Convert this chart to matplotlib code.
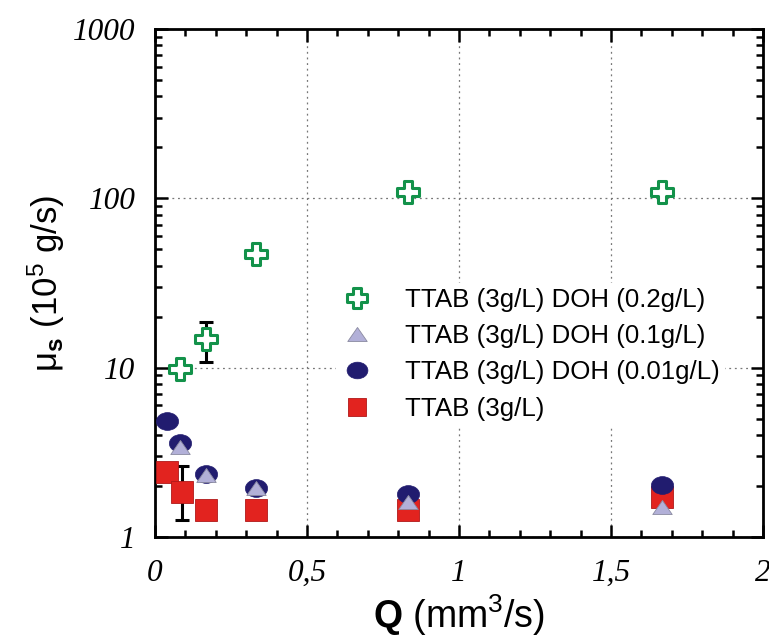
import numpy as np
import matplotlib
matplotlib.use("Agg")
import matplotlib.pyplot as plt
from matplotlib.path import Path
from matplotlib.transforms import Affine2D
from matplotlib.lines import Line2D

plt.rcParams['mathtext.fontset'] = 'custom'
plt.rcParams['mathtext.rm'] = 'Liberation Sans'
plt.rcParams['mathtext.it'] = 'Liberation Sans:italic'
plt.rcParams['mathtext.bf'] = 'Liberation Sans:bold'

# ---- data ----
labels = ["TTAB (3g/L) DOH (0.2g/L)", "TTAB (3g/L) DOH (0.1g/L)",
          "TTAB (3g/L) DOH (0.01g/L)", "TTAB (3g/L)"]

q_doh02 = [0.083, 0.167, 0.333, 0.833, 1.667]
mu_doh02 = [9.8, 14.8, 47.0, 109, 109]

q_doh01 = [0.083, 0.167, 0.333, 0.833, 1.667]
mu_doh01 = [3.42, 2.32, 1.96, 1.62, 1.50]

q_doh001 = [0.040, 0.083, 0.167, 0.333, 0.833, 1.667]
mu_doh001 = [4.86, 3.58, 2.36, 1.94, 1.79, 2.03]

q_ttab = [0.040, 0.090, 0.167, 0.333, 0.833, 1.667]
mu_ttab = [2.41, 1.84, 1.44, 1.44, 1.44, 1.73]

# error bars (x, low, high)
err_doh02 = (0.167, 10.8, 18.7)
err_ttab = (0.090, 1.26, 2.64)

xticks = [0, 0.5, 1, 1.5, 2]
xticklabels = ["0", "0,5", "1", "1,5", "2"]
yticks = [1, 10, 100, 1000]
yticklabels = ["1", "10", "100", "1000"]

# ---- markers ----
a = 0.34
plus_verts = [(-a, 1), (a, 1), (a, a), (1, a), (1, -a), (a, -a), (a, -1),
              (-a, -1), (-a, -a), (-1, -a), (-1, a), (-a, a), (-a, 1)]
plus_path = Path(plus_verts, closed=True)
ellipse_path = Path.unit_circle().transformed(Affine2D().scale(1, 0.8))
tri_path = Path([(0, 0.72), (-1, -0.72), (1, -0.72), (0, 0.72)], closed=True)

green = "#13924a"
navy = "#211c6f"
lav = "#b2b0d8"
red = "#e2231f"

fig = plt.figure(figsize=(7.69, 6.37), dpi=100)
ax = fig.add_axes([155/769, 1-537/637, (763-155)/769, (537-29)/637])
ax.set_yscale('log')
ax.set_xlim(0, 2)
ax.set_ylim(1, 1000)

# error bars
for (xe, lo, hi) in [err_doh02, err_ttab]:
    mid = np.sqrt(lo*hi)
    ax.errorbar([xe], [mid], yerr=[[mid-lo], [hi-mid]],
                fmt='none', ecolor='black', elinewidth=2.2, capsize=5, capthick=2.2, zorder=2)

ax.plot(q_ttab, mu_ttab, ls='none', marker='s', ms=16, mfc=red, mec='#b01818', mew=0.6, zorder=3)
ax.plot(q_doh001, mu_doh001, ls='none', marker=ellipse_path, ms=16, mfc=navy, mec=navy, mew=0.5, zorder=4)
ax.plot(q_doh01, mu_doh01, ls='none', marker=tri_path, ms=14, mfc=lav, mec='#8a8aa0', mew=0.6, zorder=5)
ax.plot(q_doh02, mu_doh02, ls='none', marker=plus_path, ms=16, mfc='white', mec=green, mew=2.2, zorder=6)

# grid
ax.grid(True, which='major', ls=(0, (1.5, 3)), color='#777777', lw=0.9)
ax.set_axisbelow(True)

ax.set_xticks(xticks)
ax.set_xticklabels(xticklabels)
ax.set_xticks(np.arange(0, 2.01, 0.1), minor=True)
ax.set_yticks(yticks)
ax.set_yticklabels(yticklabels)

for lab in ax.get_xticklabels() + ax.get_yticklabels():
    lab.set_fontfamily('Liberation Serif')
    lab.set_fontstyle('italic')
    lab.set_fontsize(22.5)

ax.tick_params(which='both', direction='in', top=True, right=True, width=1.8, color='black')
ax.tick_params(which='major', length=9)
ax.tick_params(which='minor', length=5)
ax.tick_params(axis='x', pad=16)
ax.tick_params(axis='y', pad=14)
for s in ax.spines.values():
    s.set_linewidth(2)

fig.text(459/769, 9/637, r'$\mathbf{Q}$ (mm$^3$/s)', fontsize=27, fontfamily='Liberation Sans',
         ha='center', va='baseline')
ax.set_ylabel(r'$\mathregular{\mu}_\mathbf{s}$ (10$^5$ g/s)', fontsize=25, fontfamily='Liberation Sans', labelpad=4)

handles = [
    Line2D([], [], ls='none', marker=plus_path, ms=15, mfc='white', mec=green, mew=2.2),
    Line2D([], [], ls='none', marker=tri_path, ms=14, mfc=lav, mec='#8a8aa0', mew=0.6),
    Line2D([], [], ls='none', marker=ellipse_path, ms=15, mfc=navy, mec=navy, mew=0.5),
    Line2D([], [], ls='none', marker='s', ms=13, mfc=red, mec='#b01818', mew=0.6),
]
leg = ax.legend(handles, labels, loc='upper left', bbox_to_anchor=(0.298, 0.5),
                frameon=True, framealpha=1, facecolor='white', edgecolor='none',
                prop={'family': 'Liberation Sans', 'size': 18.6},
                handlelength=1.2, handletextpad=1.28, labelspacing=0.47, borderpad=0.2,
                borderaxespad=0)
leg.set_zorder(7)

fig.savefig("out.png", dpi=100)
